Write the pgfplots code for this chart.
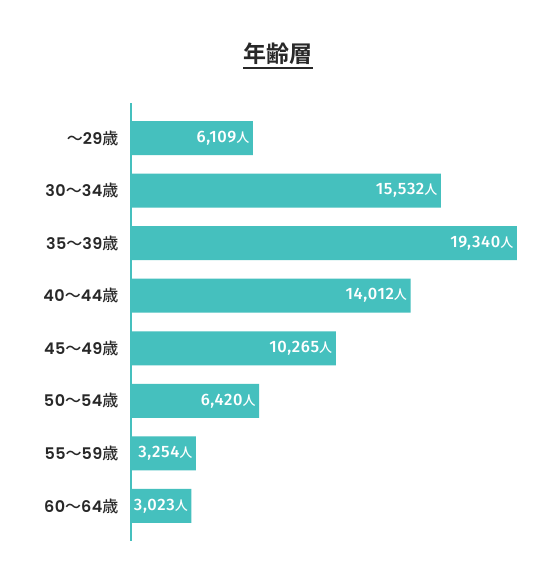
\documentclass[border=0pt]{standalone}
\usepackage{fontspec}
\setmainfont{Noto Sans CJK JP}[BoldFont={Noto Sans CJK JP Bold}]
\newfontfamily\cjkmed{Noto Sans CJK JP Medium}
\newfontfamily\pop{Poppins SemiBold}[LetterSpace=3]
\newfontfamily\fira{Fira Sans Medium}[LetterSpace=4]
\usepackage{pgfplots}
\usepackage{pgfplotstable}
\pgfplotsset{compat=1.18}
\definecolor{barteal}{RGB}{69,192,190}
\definecolor{txt}{RGB}{40,40,40}
\newcommand{\yl}[3]{{\pop #1}{\cjkmed #2}{\pop #3}{\cjkmed 歳}}
\pgfplotstableread{
y x label
0 6109 6,109
1 15532 15,532
2 19340 19,340
3 14012 14,012
4 10265 10,265
5 6420 6,420
6 3254 3,254
7 3023 3,023
}\datatable
\begin{document}
\begin{tikzpicture}
\path[use as bounding box, fill=white] (-131pt,-42pt) rectangle (425pt,541pt);
\begin{axis}[
  scale only axis, width=389pt, height=438pt,
  xbar, xmin=0, xmax=19500, ymin=-0.666, ymax=7.666, y dir=reverse,
  axis x line=none, axis y line=left,
  y axis line style={draw=barteal, line width=2pt, -},
  ytick={0,...,7},
  yticklabels={\yl{}{〜}{29},\yl{30}{〜}{34},\yl{35}{〜}{39},\yl{40}{〜}{44},\yl{45}{〜}{49},\yl{50}{〜}{54},\yl{55}{〜}{59},\yl{60}{〜}{64}},
  major tick length=0pt,
  yticklabel style={font=\fontsize{16}{16}\selectfont, text=txt, anchor=east, xshift=-9pt},
  clip=false,
]
\addplot[fill=barteal, draw=none, bar width=34pt, bar shift=0pt,
  point meta=explicit symbolic,
  nodes near coords={{\fira\pgfplotspointmeta}{\cjkmed\fontsize{13}{13}\selectfont 人}},
  every node near coord/.append style={anchor=east, text=white, font=\fontsize{16.5}{16.5}\selectfont, xshift=0pt}]
  table[x=x, y=y, meta=label] {\datatable};
\end{axis}
\node[font=\bfseries\fontsize{23}{23}\selectfont, text=txt] at (147pt,487pt) {年齢層};
\draw[txt, line width=2.2pt] (112pt,473pt) -- (182pt,473pt);
\end{tikzpicture}
\end{document}
